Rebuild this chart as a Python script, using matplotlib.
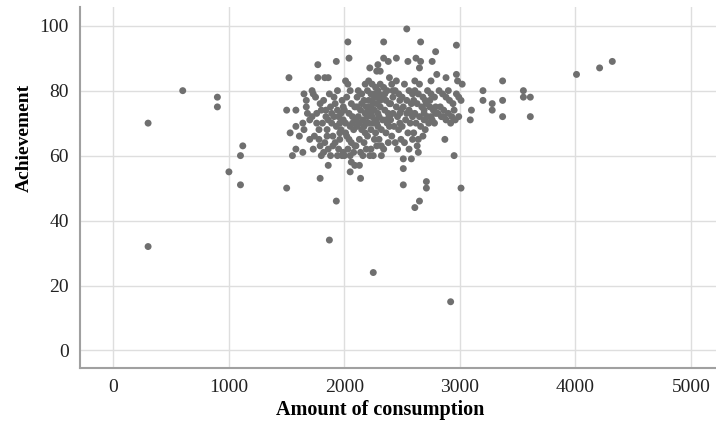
import matplotlib
matplotlib.use("Agg")
import matplotlib.pyplot as plt

# consumption / achievement pairs
consumption = [
    300, 300, 600, 900, 900, 1000, 1100, 1120, 1100,
    1500, 1580, 1530, 1580, 1610, 1550, 1580, 1640, 1650, 1500, 1520,
    1650, 1670, 1670, 1700, 1720, 1720, 1730, 1700, 1680, 1640,
    1770, 1770, 1790, 1790, 1730, 1790, 1750, 1760, 1780, 1740, 1800, 1760, 1780, 1800,
    1830, 1860, 1860, 1870, 1820, 1840, 1850, 1830, 1880, 1860, 1890, 1810, 1870, 1850,
    1880, 1820, 1840, 1890, 1860,
    1930, 1930, 1910, 1920, 1940, 1950, 1960, 1970, 1900, 1920, 1950, 1980, 1990, 1960,
    1990, 1940, 1980, 1910, 1930, 1970, 1960, 1990, 1900, 1940,
    2030, 2040, 2010, 2030, 2050, 2020, 2060, 2000, 2040, 2070, 2010, 2050, 2080, 2020,
    2060, 2030, 2080, 2000, 2050, 2090, 2010, 2070, 2040, 2090, 2060, 2090, 2050,
    2130, 2140, 2120, 2150, 2170, 2110, 2140, 2180, 2120, 2160, 2190, 2110, 2150, 2180,
    2130, 2170, 2100, 2190, 2140, 2160, 2110, 2180, 2150, 2190, 2100, 2130, 2170,
    2220, 2250, 2220, 2250, 2210, 2240, 2270, 2200, 2230, 2260, 2290, 2210, 2240, 2280,
    2220, 2260, 2290, 2200, 2240, 2270, 2210, 2250, 2290, 2230, 2270, 2200, 2260, 2280,
    2230, 2290, 2210, 2250, 2280, 2230, 2270, 2280, 2290,
    2310, 2320, 2320, 2340, 2340, 2380, 2390, 2310, 2340, 2370, 2300, 2330, 2360, 2390,
    2310, 2350, 2380, 2300, 2330, 2370, 2390, 2320, 2360, 2300, 2380, 2340, 2310, 2350,
    2390, 2360,
    2450, 2450, 2410, 2440, 2470, 2420, 2480, 2400, 2450, 2490, 2420, 2460, 2400, 2480,
    2430, 2470, 2410, 2490, 2440, 2460, 2420, 2480,
    2540, 2550, 2510, 2510, 2510, 2580, 2520, 2560, 2590, 2500, 2540, 2580, 2510, 2560,
    2590, 2530, 2570, 2500, 2550, 2590, 2520, 2560, 2580, 2540,
    2610, 2650, 2620, 2660, 2660, 2650, 2630, 2640, 2650, 2610, 2610, 2640, 2680, 2600,
    2630, 2670, 2690, 2610, 2650, 2690, 2620, 2660, 2600, 2680, 2640, 2700, 2690,
    2710, 2710, 2750, 2760, 2790, 2720, 2750, 2780, 2710, 2740, 2770, 2790, 2720, 2760,
    2730, 2780, 2700, 2750, 2790, 2740,
    2800, 2880, 2970, 2970, 2980, 3020, 2870, 2950, 3010, 2920, 2820, 2850, 2880, 2910,
    2940, 2970, 2830, 2860, 2900, 2930, 2960, 2840, 2880, 2920, 2990, 2950, 2900, 2810,
    2860, 2990, 3010,
    3100, 3090, 3200, 3200, 3280, 3280, 3370, 3370, 3370, 3550, 3550, 3610, 3610,
    4010, 4210, 4320,
]
achievement = [
    70, 32, 80, 78, 75, 55, 60, 63, 51,
    74, 74, 67, 69, 66, 60, 62, 61, 68, 50, 84,
    79, 77, 75, 71, 72, 80, 79, 65, 73, 70,
    84, 88, 76, 63, 62, 53, 78, 70, 68, 66, 74, 73, 65, 60,
    84, 84, 57, 34, 77, 72, 68, 64, 75, 62, 70, 70, 79, 66,
    60, 61, 74, 73, 71,
    89, 46, 78, 76, 74, 72, 70, 68, 66, 64, 62, 60, 61, 65,
    75, 80, 77, 72, 69, 73, 67, 71, 63, 60,
    95, 90, 83, 82, 80, 78, 76, 74, 73, 72, 70, 69, 68, 66,
    64, 62, 61, 60, 60, 75, 67, 70, 65, 63, 58, 57, 55,
    57, 53, 80, 79, 77, 75, 74, 73, 72, 71, 70, 69, 68, 67,
    65, 64, 63, 62, 61, 60, 78, 82, 76, 75, 71, 70, 69,
    87, 24, 60, 60, 83, 82, 81, 80, 79, 79, 78, 77, 77, 76,
    75, 74, 73, 72, 72, 71, 70, 70, 69, 68, 67, 66, 65, 63,
    62, 80, 74, 76, 70, 73, 78, 86, 88,
    86, 63, 60, 95, 90, 89, 84, 82, 81, 80, 79, 78, 77, 76,
    75, 74, 73, 72, 71, 70, 69, 68, 67, 65, 64, 62, 77, 79,
    72, 71,
    90, 83, 82, 80, 79, 78, 77, 76, 75, 74, 73, 72, 71, 70,
    69, 68, 66, 65, 64, 62, 80, 73,
    99, 89, 59, 56, 51, 59, 82, 80, 79, 78, 77, 76, 75, 74,
    72, 71, 70, 69, 67, 65, 64, 62, 73, 73,
    83, 82, 90, 95, 89, 87, 63, 61, 46, 44, 80, 79, 78, 77,
    76, 75, 74, 73, 72, 71, 70, 69, 67, 66, 65, 77, 73,
    52, 50, 83, 89, 92, 80, 79, 78, 76, 75, 74, 73, 72, 71,
    70, 70, 68, 72, 75, 77,
    85, 84, 85, 94, 83, 82, 65, 60, 50, 15, 80, 79, 78, 77,
    76, 79, 75, 74, 73, 72, 71, 72, 71, 70, 72, 74, 80, 73,
    72, 78, 77,
    74, 71, 80, 77, 76, 74, 83, 77, 72, 80, 78, 78, 72,
    85, 87, 89,
]

x_ticks = [0, 1000, 2000, 3000, 4000, 5000]
y_ticks = [0, 20, 40, 60, 80, 100]

plt.rcParams["font.family"] = ["Liberation Serif", "DejaVu Serif"]

fig = plt.figure(figsize=(7.16, 4.23), dpi=100)
ax = fig.add_axes([0.112, 0.13, 0.888, 0.853])

ax.scatter(consumption, achievement, s=25, color="#6f6f6f", edgecolors="none", zorder=3)

ax.set_xlim(-288, 5218)
ax.set_ylim(-5.4, 105.7)
ax.set_xticks(x_ticks)
ax.set_yticks(y_ticks)
ax.grid(True, color="#dedede", linewidth=1.0, zorder=0)
ax.tick_params(length=0, labelsize=14, colors="#222222", pad=8)

for side in ["top", "right"]:
    ax.spines[side].set_visible(False)
for side in ["left", "bottom"]:
    ax.spines[side].set_color("#a0a0a0")
    ax.spines[side].set_linewidth(1.5)

ax.set_xlabel("Amount of consumption", fontsize=14.5, fontweight="bold")
ax.set_ylabel("Achievement", fontsize=14, fontweight="bold")
# labels sit off-centre in the reference
ax.xaxis.set_label_coords(0.472, -0.09)
ax.yaxis.set_label_coords(-0.074, 0.638)

fig.savefig("out.png", dpi=100)
